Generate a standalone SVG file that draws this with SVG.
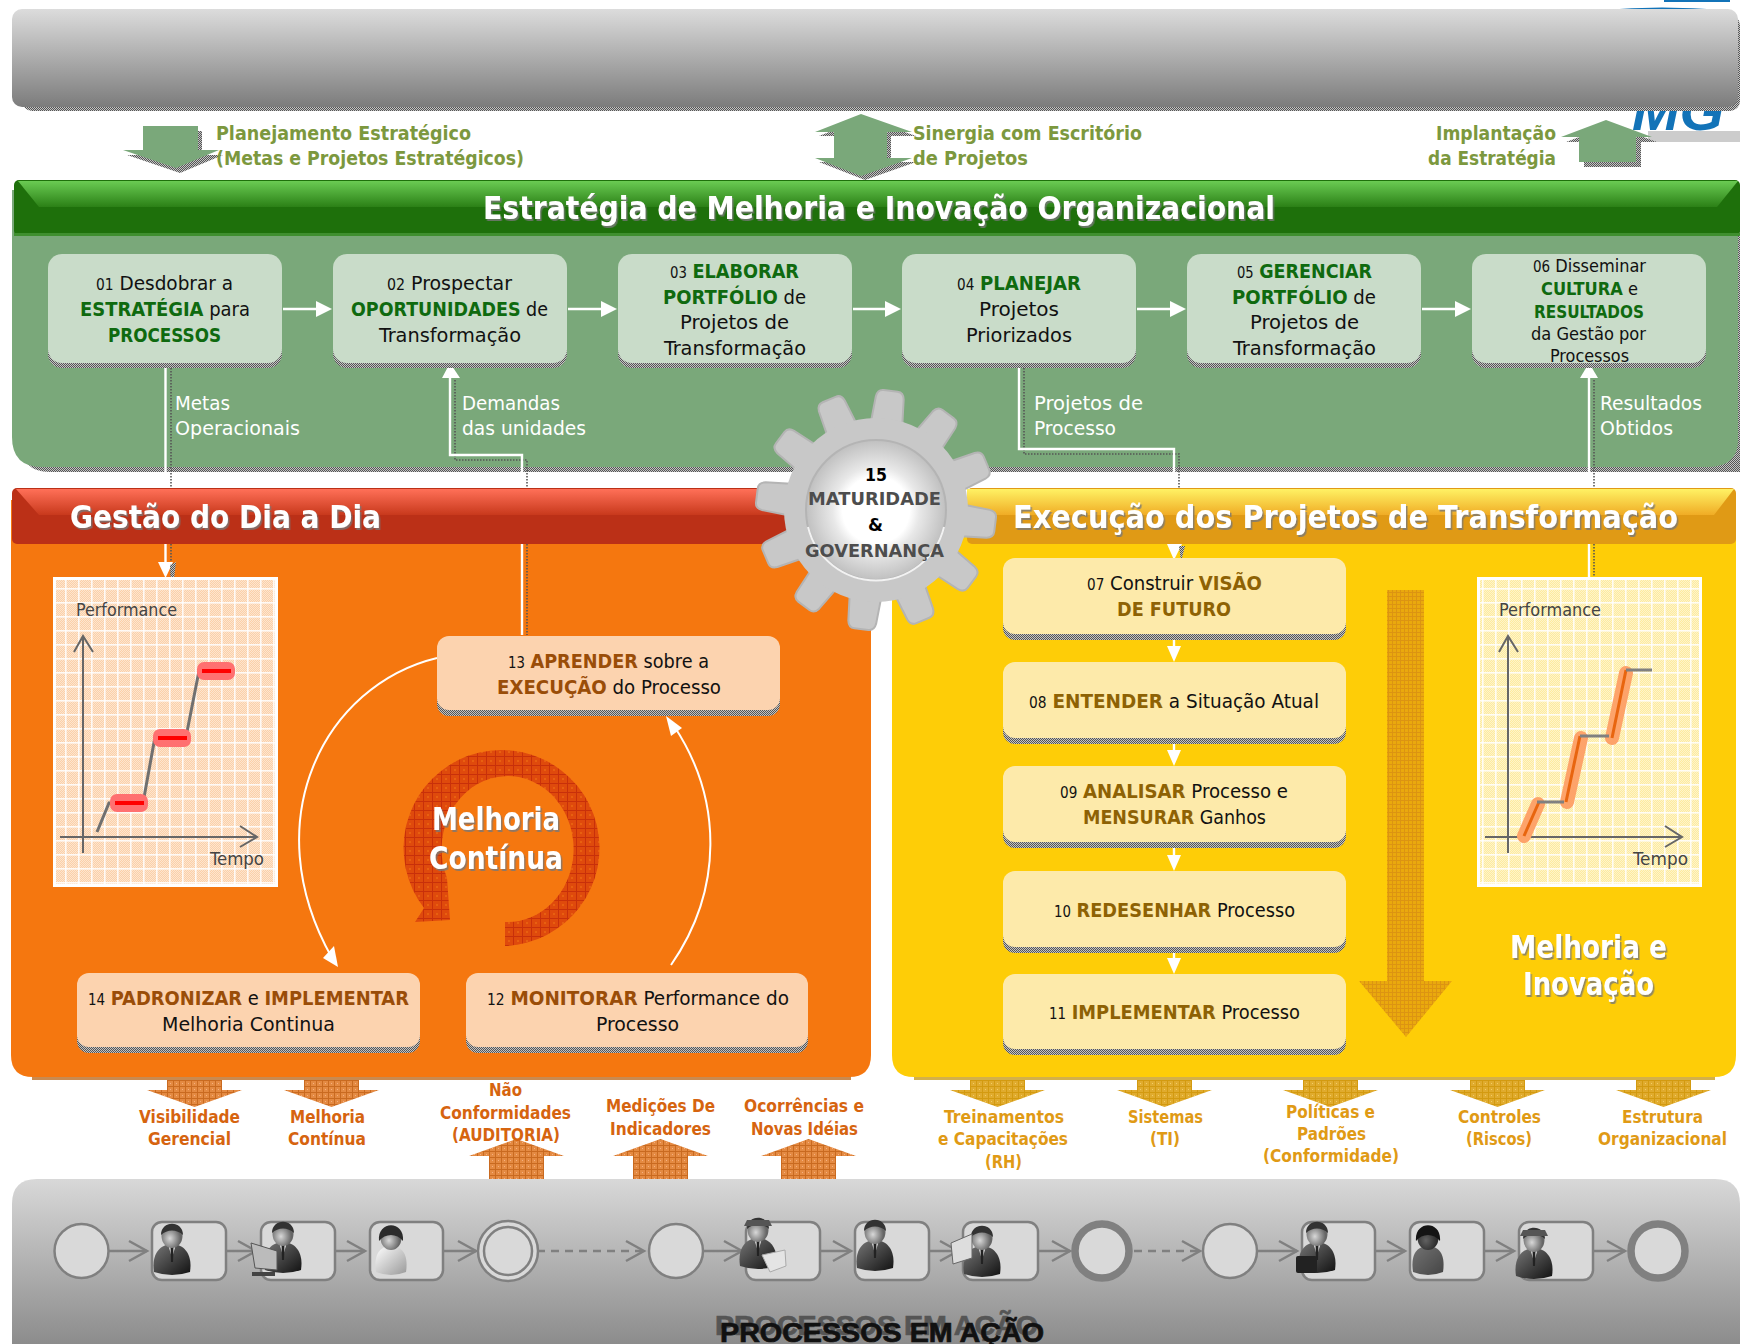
<svg xmlns="http://www.w3.org/2000/svg" width="1740" height="1344" viewBox="0 0 1740 1344">
<style>
text{font-family:"DejaVu Sans Condensed","DejaVu Sans","Noto Sans",sans-serif;font-size:20px;fill:#111}
.b{font-weight:bold}
.num{font-size:15px}
.gw{fill:#0f6a0f;font-weight:bold}
.br{fill:#9a4d08;font-weight:bold}
.gd{fill:#8e6204;font-weight:bold}
.ol{fill:#7c983e;font-weight:bold}
.wl{fill:#fff}
.t{font-weight:bold;font-size:32px;fill:#fff;filter:url(#ts)}
.ax{fill:#444;font-size:17px}
.ol2{fill:#d6640f;font-size:18px;font-weight:bold}
.ye2{fill:#e09a15;font-size:18px;font-weight:bold}
.n6{font-size:18px}
.gr{font-family:"DejaVu Sans",sans-serif;font-weight:bold;font-size:18px;fill:#4d4d4d}
.pa{font-family:"Liberation Sans",sans-serif;font-weight:bold;font-size:27px;stroke-width:.7}
.shad{fill:url(#ds)}
.sl{fill:none;stroke:#555;stroke-width:1.6;stroke-dasharray:1.5 1.5}
.wline{fill:none;stroke:#fff;stroke-width:2.4}
.wh{fill:#fff}
.gn{fill:#c9dcc9}.pe{fill:#fcd3af}.yl{fill:#fdeaaa}
.task{fill:#d9d9d9;stroke:#808080;stroke-width:2.5}
.pl{fill:none;stroke:#808080;stroke-width:2.5}
.axl{fill:none;stroke:#666;stroke-width:2}
</style>
<defs>
<filter id="ts" x="-5%" y="-20%" width="110%" height="150%"><feDropShadow dx="1.5" dy="2" stdDeviation="0.4" flood-color="#777" flood-opacity="0.8"/></filter>
<pattern id="ds" width="2" height="2" patternUnits="userSpaceOnUse"><rect width="1" height="1" fill="#555"/><rect x="1" y="1" width="1" height="1" fill="#555"/><rect x="1" width="1" height="1" fill="#c4c4c4"/><rect y="1" width="1" height="1" fill="#c4c4c4"/></pattern>
<pattern id="or" width="6" height="6" patternUnits="userSpaceOnUse"><rect width="6" height="6" fill="#e48a42"/><rect width="6" height="1" fill="#c96a20"/><rect width="1" height="6" fill="#c96a20"/><rect x="3" y="3" width="1" height="1" fill="#f5b080"/></pattern>
<pattern id="yo" width="6" height="6" patternUnits="userSpaceOnUse"><rect width="6" height="6" fill="#e0ab2e"/><rect width="6" height="1" fill="#d39a10"/><rect width="1" height="6" fill="#d39a10"/><rect x="3" y="3" width="1" height="1" fill="#f2cd66"/></pattern>
<pattern id="bd" width="4" height="4" patternUnits="userSpaceOnUse"><rect width="4" height="4" fill="#eaa90d"/><rect width="4" height="1" fill="#dc9412"/><rect width="1" height="4" fill="#dc9412"/></pattern>
<pattern id="rd" width="9" height="9" patternUnits="userSpaceOnUse"><rect width="9" height="9" fill="#df4a0c"/><rect width="9" height="1" fill="#c8300a"/><rect width="1" height="9" fill="#c8300a"/><rect x="4" y="4" width="2" height="2" fill="#e86010"/></pattern>
<pattern id="fd" width="2" height="2" patternUnits="userSpaceOnUse"><rect width="1" height="1" fill="#fff" opacity=".45"/><rect x="1" y="1" width="1" height="1" fill="#fff" opacity=".45"/></pattern>
<pattern id="cp" width="13" height="14" patternUnits="userSpaceOnUse"><rect width="13" height="14" fill="#fbd0a8"/><rect y="0" width="13" height="1.6" fill="#fff" opacity=".85"/><rect width="1.6" height="14" fill="#fff" opacity=".85"/></pattern>
<pattern id="cy" width="13" height="14" patternUnits="userSpaceOnUse"><rect width="13" height="14" fill="#fdeb9e"/><rect y="0" width="13" height="1.6" fill="#fff" opacity=".85"/><rect width="1.6" height="14" fill="#fff" opacity=".85"/></pattern>
<linearGradient id="gTop" x1="0" y1="0" x2="0" y2="1"><stop offset="0" stop-color="#dcdcdc"/><stop offset="1" stop-color="#7c7c7c"/></linearGradient>
<linearGradient id="gBot" x1="0" y1="0" x2="0" y2="1"><stop offset="0" stop-color="#d8d8d8"/><stop offset="1" stop-color="#8c8c8c"/></linearGradient>
<linearGradient id="hG" x1="0" y1="0" x2="0" y2="1"><stop offset="0" stop-color="#6acb53"/><stop offset="1" stop-color="#2b8016"/></linearGradient>
<linearGradient id="hR" x1="0" y1="0" x2="0" y2="1"><stop offset="0" stop-color="#ff7058"/><stop offset="1" stop-color="#c8391c"/></linearGradient>
<linearGradient id="hY" x1="0" y1="0" x2="0" y2="1"><stop offset="0" stop-color="#fff264"/><stop offset="1" stop-color="#f0ac25"/></linearGradient>
<radialGradient id="hub"><stop offset="0.48" stop-color="#fff"/><stop offset="0.62" stop-color="#e8e8e8"/><stop offset="1" stop-color="#c0c0c0"/></radialGradient>
<linearGradient id="bodyD" x1="0" y1="0" x2="1" y2="1"><stop offset="0" stop-color="#777"/><stop offset="1" stop-color="#111"/></linearGradient>
<linearGradient id="bodyL" x1="0" y1="0" x2="1" y2="1"><stop offset="0" stop-color="#fff"/><stop offset="1" stop-color="#999"/></linearGradient>
<radialGradient id="skin" cx="0.4" cy="0.6"><stop offset="0" stop-color="#d8d8d8"/><stop offset="1" stop-color="#666"/></radialGradient>
<path id="tooth" d="M-16,-84L-14,-113Q-13,-120-7,-120L7,-120Q13,-120 14,-113L16,-84Z" fill="#c8c8c8" stroke="#b4b4b4" stroke-width="2"/>
<g id="pD"><path d="M-18,22C-21,2-10,-6 0,-6C10,-6 21,2 18,22Q0,28-18,22Z" fill="url(#bodyD)"/><path d="M-4,-6L0,8L4,-6Z" fill="#eee"/><path d="M-1.5,-3L1.5,-3L1,12L-1,12Z" fill="#222"/><ellipse cx="0" cy="-14" rx="10.5" ry="12" fill="url(#skin)"/><path d="M-11,-15C-11,-30 11,-30 11,-15C5,-21-5,-21-11,-15Z" fill="#333"/></g>
<g id="pL"><path d="M-15,22C-18,2-9,-4 0,-4C9,-4 18,2 15,22Q0,28-15,22Z" fill="url(#bodyL)"/><ellipse cx="0" cy="-12" rx="10.5" ry="12" fill="url(#skin)"/><path d="M-12,-9C-14,-30 14,-30 12,-9C6,-17-6,-17-12,-9Z" fill="#2c2c2c"/></g>
<g id="cap"><path d="M-11,-24H11L14,-18H-14Z" fill="#555"/></g>
<path id="aD" d="M0,0H55V10H75L27.500,27L-20,10H0Z"/>
<path id="aU" d="M0,17H-20L27.500,0L75,17H55V40H0Z"/>
</defs>

<g id="backdrop">
<rect width="1740" height="1344" fill="#fff"/>
<path d="M1603,10Q1660,5 1725,10V14H1603Z M1664,0H1730V2H1664Z" fill="#1273b8"/>
<rect x="1648" y="131" width="92" height="11" fill="#cccccc"/>
<text x="1632" y="130" style="font-family:'Liberation Sans',sans-serif;font-size:53px;font-weight:bold;font-style:italic;fill:#1273b8" textLength="92" lengthAdjust="spacingAndGlyphs">MG</text>
</g>

<g id="top-bar">
<rect x="22" y="15" width="1718" height="96" rx="10" class="shad"/>
<rect x="12" y="9" width="1726" height="98" rx="10" fill="url(#gTop)"/>
</g>

<g id="top-arrows">
<path transform="translate(4,5)" class="shad" d="M143,126H198V150H219L176,168L123,150H143Z"/>
<path d="M143,126H198V150H219L176,168L123,150H143Z" fill="#7aa87a"/>
<path transform="translate(4,4)" class="shad" d="M861,114L912,132H887V158H912L861,176L815,158H834V132H815Z"/>
<path d="M861,114L912,132H887V158H912L861,176L815,158H834V132H815Z" fill="#7aa87a"/>
<path transform="translate(5,5)" class="shad" d="M1606,120L1652,137H1636V162H1579V137H1561Z"/>
<path d="M1606,120L1652,137H1636V162H1579V137H1561Z" fill="#7aa87a"/>
<text class="ol" x="216" y="140" textLength="255" lengthAdjust="spacingAndGlyphs">Planejamento Estratégico</text>
<text class="ol" x="216" y="165" textLength="308" lengthAdjust="spacingAndGlyphs">(Metas e Projetos Estratégicos)</text>
<text class="ol" x="913" y="140" textLength="229" lengthAdjust="spacingAndGlyphs">Sinergia com Escritório</text>
<text class="ol" x="913" y="165" textLength="115" lengthAdjust="spacingAndGlyphs">de Projetos</text>
<text class="ol" x="1436" y="140" textLength="120" lengthAdjust="spacingAndGlyphs">Implantação</text>
<text class="ol" x="1428" y="165" textLength="128" lengthAdjust="spacingAndGlyphs">da Estratégia</text>
</g>

<g id="panel-estrategia">
<path d="M20,190H1740V472H50Q20,472 20,440Z" class="shad"/>
<path d="M12,190H1738V440Q1738,467 1708,467H42Q12,467 12,437Z" fill="#7aa87a"/>
<rect x="14" y="180" width="1726" height="56" rx="5" fill="#1e700b"/>
<rect x="14" y="233" width="1726" height="3" fill="#3f8f2f"/>
<path d="M18,181H1738L1717,207H39Z" fill="url(#hG)"/>
<text class="t" x="483" y="219" textLength="792" lengthAdjust="spacingAndGlyphs">Estratégia de Melhoria e Inovação Organizacional</text>
</g>

<g id="panel-gestao">
<path d="M32,500H851V1080H32Z" fill="#c98a50"/>
<path d="M11,500H871V1055Q871,1077 849,1077H33Q11,1077 11,1055Z" fill="#f5770f"/>
<rect x="12" y="488" width="776" height="56" rx="5" fill="#bb3017"/>
<path d="M16,489H788V515H39Z" fill="url(#hR)"/>
<text class="t" x="70" y="528" textLength="311" lengthAdjust="spacingAndGlyphs">Gestão do Dia a Dia</text>
</g>

<g id="panel-execucao">
<path d="M914,500H1715V1080H914Z" fill="#d3b04a"/>
<path d="M892,500H1736V1055Q1736,1077 1714,1077H914Q892,1077 892,1055Z" fill="#fecd07"/>
<rect x="967" y="488" width="769" height="56" rx="5" fill="#e09a15"/>
<path d="M967,489H1734L1714,515H967Z" fill="url(#hY)"/>
<text class="t" x="1013" y="528" textLength="665" lengthAdjust="spacingAndGlyphs">Execução dos Projetos de Transformação</text>
</g>

<g id="panel-processos">
<path d="M12,1344V1204Q12,1179 37,1179H1715Q1740,1179 1740,1204V1344Z" fill="url(#gBot)"/>
<text class="pa" x="715" y="1335" style="fill:#555;stroke:#555" textLength="323" lengthAdjust="spacingAndGlyphs">PROCESSOS EM AÇÃO</text>
<text class="pa" x="720" y="1342" style="fill:#111;stroke:#111" textLength="324" lengthAdjust="spacingAndGlyphs">PROCESSOS EM AÇÃO</text>
</g>

<g id="connectors">
<path class="sl" d="M171,368V488M171,544V585"/>
<path class="wline" d="M165.500,363V488M165.500,544V564"/>
<path class="wh" d="M158,562H173L165.500,578Z"/>
<path class="shad" d="M170,565L176,562L174,580L171,584Z"/>
<path class="sl" d="M455,380V460H527V488M527,544V635"/>
<path class="wline" d="M450,376V455H522V488M522,544V635"/>
<path class="wh" d="M450,363L460,378H442Z"/>
<path class="sl" d="M1024,368V454H1179V488"/>
<path class="wline" d="M1019,363V449H1174V488"/>
<path class="wh" d="M1167,544H1182L1174,560Z"/>
<path class="shad" d="M1179,546H1185L1181,562Z"/>
<path class="sl" d="M1594,380V488M1594,544V582"/>
<path class="wline" d="M1589,376V488M1589,544V578"/>
<path class="wh" d="M1589,363L1598,378H1580Z"/>
<g id="flow-arrows">
<path class="wline" d="M283,309H318M568,309H603M853,309H888M1137,309H1173M1422,309H1458"/>
<path class="wh" d="M316,301L332,309L316,317ZM601,301L617,309L601,317ZM885,301L901,309L885,317ZM1170,301L1186,309L1170,317ZM1455,301L1471,309L1455,317Z"/>
<path class="wline" d="M1174,640V648M1174,744V752M1174,848V857M1174,953V960"/>
<path class="wh" d="M1167,646H1181L1174,662ZM1167,750H1181L1174,766ZM1167,855H1181L1174,871ZM1167,958H1181L1174,974Z"/>
</g>
<g id="cycle-arrows">
<path class="wline" style="stroke-width:2" d="M437,658C325,685 254,820 332,958"/>
<path class="wh" d="M338,967L323,958L334,946Z"/>
<path class="wline" style="stroke-width:2" d="M671,965C723,890 723,800 674,726"/>
<path class="wh" d="M666,716L682,728L671,736Z"/>
</g>
<g id="process-lines">
<path class="pl" d="M109,1251H147M226,1251H256M335,1251H365M443,1251H476M703,1251H741M820,1251H850M929,1251H958M1038,1251H1070M1257,1251H1297M1375,1251H1405M1484,1251H1514M1593,1251H1625"/>
<path class="pl" style="stroke-dasharray:8 6" d="M537,1251H642M1134,1251H1198"/>
<path class="pl" d="M129,1241L147,1251L129,1261M238,1241L256,1251L238,1261M347,1241L365,1251L347,1261M458,1241L476,1251L458,1261M626,1241L644,1251L626,1261M724,1241L742,1251L724,1261M833,1241L851,1251L833,1261M940,1241L958,1251L940,1261M1052,1241L1070,1251L1052,1261M1182,1241L1200,1251L1182,1261M1279,1241L1297,1251L1279,1261M1387,1241L1405,1251L1387,1261M1496,1241L1514,1251L1496,1261M1607,1241L1625,1251L1607,1261"/>
</g>
</g>

<g id="labels">
<text class="wl" x="175" y="410" textLength="55" lengthAdjust="spacingAndGlyphs">Metas</text>
<text class="wl" x="175" y="435" textLength="125" lengthAdjust="spacingAndGlyphs">Operacionais</text>
<text class="wl" x="462" y="410" textLength="98" lengthAdjust="spacingAndGlyphs">Demandas</text>
<text class="wl" x="462" y="435" textLength="124" lengthAdjust="spacingAndGlyphs">das unidades</text>
<text class="wl" x="1034" y="410" textLength="109" lengthAdjust="spacingAndGlyphs">Projetos de</text>
<text class="wl" x="1034" y="435" textLength="82" lengthAdjust="spacingAndGlyphs">Processo</text>
<text class="wl" x="1600" y="410" textLength="102" lengthAdjust="spacingAndGlyphs">Resultados</text>
<text class="wl" x="1600" y="435" textLength="73" lengthAdjust="spacingAndGlyphs">Obtidos</text>
</g>

<g id="n01"><rect x="48" y="259" width="234" height="109" rx="14" class="shad"/><rect x="48" y="254" width="234" height="109" rx="14" class="gn"/>
<text x="96" y="290" textLength="137" lengthAdjust="spacingAndGlyphs"><tspan class="num">01</tspan> Desdobrar a</text>
<text x="80" y="316" textLength="170" lengthAdjust="spacingAndGlyphs"><tspan class="gw">ESTRATÉGIA</tspan> para</text>
<text x="108" y="342" textLength="113" lengthAdjust="spacingAndGlyphs" class="gw">PROCESSOS</text></g>
<g id="n02"><rect x="333" y="259" width="234" height="109" rx="14" class="shad"/><rect x="333" y="254" width="234" height="109" rx="14" class="gn"/>
<text x="387" y="290" textLength="125" lengthAdjust="spacingAndGlyphs"><tspan class="num">02</tspan> Prospectar</text>
<text x="351" y="316" textLength="197" lengthAdjust="spacingAndGlyphs"><tspan class="gw">OPORTUNIDADES</tspan> de</text>
<text x="379" y="342" textLength="142" lengthAdjust="spacingAndGlyphs">Transformação</text></g>
<g id="n03"><rect x="618" y="259" width="234" height="109" rx="14" class="shad"/><rect x="618" y="254" width="234" height="109" rx="14" class="gn"/>
<text x="670" y="278" textLength="129" lengthAdjust="spacingAndGlyphs"><tspan class="num">03</tspan> <tspan class="gw">ELABORAR</tspan></text>
<text x="663" y="304" textLength="143" lengthAdjust="spacingAndGlyphs"><tspan class="gw">PORTFÓLIO</tspan> de</text>
<text x="680" y="329" textLength="109" lengthAdjust="spacingAndGlyphs">Projetos de</text>
<text x="664" y="355" textLength="142" lengthAdjust="spacingAndGlyphs">Transformação</text></g>
<g id="n04"><rect x="902" y="259" width="234" height="109" rx="14" class="shad"/><rect x="902" y="254" width="234" height="109" rx="14" class="gn"/>
<text x="957" y="290" textLength="124" lengthAdjust="spacingAndGlyphs"><tspan class="num">04</tspan> <tspan class="gw">PLANEJAR</tspan></text>
<text x="979" y="316" textLength="80" lengthAdjust="spacingAndGlyphs">Projetos</text>
<text x="966" y="342" textLength="106" lengthAdjust="spacingAndGlyphs">Priorizados</text></g>
<g id="n05"><rect x="1187" y="259" width="234" height="109" rx="14" class="shad"/><rect x="1187" y="254" width="234" height="109" rx="14" class="gn"/>
<text x="1237" y="278" textLength="135" lengthAdjust="spacingAndGlyphs"><tspan class="num">05</tspan> <tspan class="gw">GERENCIAR</tspan></text>
<text x="1232" y="304" textLength="144" lengthAdjust="spacingAndGlyphs"><tspan class="gw">PORTFÓLIO</tspan> de</text>
<text x="1250" y="329" textLength="109" lengthAdjust="spacingAndGlyphs">Projetos de</text>
<text x="1233" y="355" textLength="143" lengthAdjust="spacingAndGlyphs">Transformação</text></g>
<g id="n06"><rect x="1472" y="259" width="234" height="109" rx="14" class="shad"/><rect x="1472" y="254" width="234" height="109" rx="14" class="gn"/>
<text class="n6" x="1533" y="272" textLength="113" lengthAdjust="spacingAndGlyphs"><tspan class="num">06</tspan> Disseminar</text>
<text class="n6" x="1541" y="295" textLength="97" lengthAdjust="spacingAndGlyphs"><tspan class="gw">CULTURA</tspan> e</text>
<text class="n6 gw" x="1534" y="318" textLength="110" lengthAdjust="spacingAndGlyphs">RESULTADOS</text>
<text class="n6" x="1531" y="340" textLength="115" lengthAdjust="spacingAndGlyphs">da Gestão por</text>
<text class="n6" x="1550" y="362" textLength="79" lengthAdjust="spacingAndGlyphs">Processos</text></g>

<g id="chart-gestao">
<rect x="54.500" y="578.500" width="222" height="307" fill="url(#cp)" stroke="#fff" stroke-width="3"/>
<rect x="56" y="580" width="219" height="304" fill="url(#fd)"/>
<text class="ax" x="76" y="616" textLength="101" lengthAdjust="spacingAndGlyphs">Performance</text>
<path class="axl" d="M83,853V636M74,652L83,636L93,652M60,837H256M240,826L257,837L240,847"/>
<path fill="none" stroke="#707070" stroke-width="3" d="M97,832L109,803H143L155,737H186L199,671"/>
<rect x="110" y="794" width="38" height="18" rx="7" fill="#ff7070"/><rect x="115" y="801" width="29" height="4" fill="#f00"/>
<rect x="153" y="729" width="38" height="18" rx="7" fill="#ff7070"/><rect x="158" y="736" width="29" height="4" fill="#f00"/>
<rect x="197" y="662" width="38" height="18" rx="7" fill="#ff7070"/><rect x="202" y="669" width="29" height="4" fill="#f00"/>
<text class="ax" x="210" y="865" textLength="54" lengthAdjust="spacingAndGlyphs">Tempo</text>
</g>

<g id="ciclo">
<path d="M505,946A98,98 0 1 0 424,908L415,922L450,920L447,878A66,73 0 1 1 505,922Z" fill="url(#rd)"/>
<text class="t" x="432" y="830" textLength="128" lengthAdjust="spacingAndGlyphs">Melhoria</text>
<text class="t" x="429" y="869" textLength="134" lengthAdjust="spacingAndGlyphs">Contínua</text>
</g>

<g id="n13"><rect x="437" y="642" width="343" height="74" rx="12" class="shad"/><rect x="437" y="636" width="343" height="74" rx="12" class="pe"/>
<text x="508" y="668" textLength="201" lengthAdjust="spacingAndGlyphs"><tspan class="num">13</tspan> <tspan class="br">APRENDER</tspan> sobre a</text>
<text x="497" y="694" textLength="224" lengthAdjust="spacingAndGlyphs"><tspan class="br">EXECUÇÃO</tspan> do Processo</text></g>
<g id="n14"><rect x="77" y="979" width="343" height="74" rx="12" class="shad"/><rect x="77" y="973" width="343" height="74" rx="12" class="pe"/>
<text x="88" y="1005" textLength="321" lengthAdjust="spacingAndGlyphs"><tspan class="num">14</tspan> <tspan class="br">PADRONIZAR</tspan> e  <tspan class="br">IMPLEMENTAR</tspan></text>
<text x="162" y="1031" textLength="173" lengthAdjust="spacingAndGlyphs">Melhoria Continua</text></g>
<g id="n12"><rect x="466" y="979" width="342" height="74" rx="12" class="shad"/><rect x="466" y="973" width="342" height="74" rx="12" class="pe"/>
<text x="487" y="1005" textLength="302" lengthAdjust="spacingAndGlyphs"><tspan class="num">12</tspan> <tspan class="br">MONITORAR</tspan> Performance do</text>
<text x="596" y="1031" textLength="83" lengthAdjust="spacingAndGlyphs">Processo</text></g>

<g id="big-arrow"><path d="M1387,590H1424V981H1452L1406,1037L1359,981H1387Z" fill="url(#bd)"/></g>

<g id="n07"><rect x="1003" y="564" width="343" height="76" rx="12" class="shad"/><rect x="1003" y="558" width="343" height="76" rx="12" class="yl"/>
<text x="1087" y="590" textLength="175" lengthAdjust="spacingAndGlyphs"><tspan class="num">07</tspan> Construir <tspan class="gd">VISÃO</tspan></text>
<text class="gd" x="1117" y="616" textLength="114" lengthAdjust="spacingAndGlyphs">DE FUTURO</text></g>
<g id="n08"><rect x="1003" y="668" width="343" height="76" rx="12" class="shad"/><rect x="1003" y="662" width="343" height="76" rx="12" class="yl"/>
<text x="1029" y="708" textLength="290" lengthAdjust="spacingAndGlyphs"><tspan class="num">08</tspan> <tspan class="gd">ENTENDER</tspan> a Situação Atual</text></g>
<g id="n09"><rect x="1003" y="772" width="343" height="76" rx="12" class="shad"/><rect x="1003" y="766" width="343" height="76" rx="12" class="yl"/>
<text x="1060" y="798" textLength="228" lengthAdjust="spacingAndGlyphs"><tspan class="num">09</tspan> <tspan class="gd">ANALISAR</tspan> Processo e</text>
<text x="1083" y="824" textLength="183" lengthAdjust="spacingAndGlyphs"><tspan class="gd">MENSURAR</tspan> Ganhos</text></g>
<g id="n10"><rect x="1003" y="877" width="343" height="76" rx="12" class="shad"/><rect x="1003" y="871" width="343" height="76" rx="12" class="yl"/>
<text x="1054" y="917" textLength="241" lengthAdjust="spacingAndGlyphs"><tspan class="num">10</tspan> <tspan class="gd">REDESENHAR</tspan> Processo</text></g>
<g id="n11"><rect x="1003" y="980" width="343" height="75" rx="12" class="shad"/><rect x="1003" y="974" width="343" height="75" rx="12" class="yl"/>
<text x="1049" y="1019" textLength="251" lengthAdjust="spacingAndGlyphs"><tspan class="num">11</tspan> <tspan class="gd">IMPLEMENTAR</tspan> Processo</text></g>

<g id="chart-execucao">
<rect x="1478.500" y="578.500" width="222" height="307" fill="url(#cy)" stroke="#fff" stroke-width="3"/>
<rect x="1480" y="580" width="219" height="304" fill="url(#fd)"/>
<text class="ax" x="1499" y="616" textLength="102" lengthAdjust="spacingAndGlyphs">Performance</text>
<path class="axl" d="M1508,853V636M1499,652L1508,636L1518,652M1485,837H1681M1665,826L1682,837L1665,847"/>
<path fill="none" stroke="#fda36a" stroke-width="14" stroke-linecap="round" d="M1524,836L1538,804M1567,802L1581,738M1612,738L1626,673"/>
<path fill="none" stroke="#e8650f" stroke-width="3" d="M1524,836L1539,802M1566,802L1580,736M1612,738L1626,670"/>
<path fill="none" stroke="#808080" stroke-width="3" d="M1537,802H1564M1580,736H1609M1626,670H1652"/>
<text class="ax" x="1633" y="865" textLength="55" lengthAdjust="spacingAndGlyphs">Tempo</text>
</g>
<text id="melhoria-inovacao" class="t" x="1510" y="958" textLength="157" lengthAdjust="spacingAndGlyphs">Melhoria e</text>
<text class="t" x="1523" y="995" textLength="131" lengthAdjust="spacingAndGlyphs">Inovação</text>

<g id="gear">
<g transform="translate(876,510)">
<use href="#tooth" transform="rotate(7)"/><use href="#tooth" transform="rotate(37)"/><use href="#tooth" transform="rotate(67)"/><use href="#tooth" transform="rotate(97)"/><use href="#tooth" transform="rotate(127)"/><use href="#tooth" transform="rotate(157)"/><use href="#tooth" transform="rotate(187)"/><use href="#tooth" transform="rotate(217)"/><use href="#tooth" transform="rotate(247)"/><use href="#tooth" transform="rotate(277)"/><use href="#tooth" transform="rotate(307)"/><use href="#tooth" transform="rotate(337)"/>
<circle r="92" fill="#c8c8c8"/>
<circle r="70" fill="url(#hub)" stroke="#b4b4b4" stroke-width="2"/>
<path d="M-68,17A70,70 0 0 0 68,17" fill="none" stroke="#f2f2f2" stroke-width="2"/>
</g>
<text class="gr" x="865" y="481" textLength="22" lengthAdjust="spacingAndGlyphs" style="fill:#000">15</text>
<text class="gr" x="808" y="505" textLength="133" lengthAdjust="spacingAndGlyphs">MATURIDADE</text>
<text class="gr" x="868" y="531" textLength="15" lengthAdjust="spacingAndGlyphs" style="fill:#000">&amp;</text>
<text class="gr" x="805" y="557" textLength="139" lengthAdjust="spacingAndGlyphs">GOVERNANÇA</text>
</g>

<g id="side-arrows">
<use href="#aD" x="167" y="1080" fill="url(#or)"/>
<use href="#aD" x="304" y="1080" fill="url(#or)"/>
<use href="#aU" x="489" y="1139" fill="url(#or)"/>
<use href="#aU" x="633" y="1139" fill="url(#or)"/>
<use href="#aU" x="781" y="1139" fill="url(#or)"/>
<use href="#aD" x="970" y="1080" fill="url(#yo)"/>
<use href="#aD" x="1137" y="1080" fill="url(#yo)"/>
<use href="#aD" x="1303" y="1080" fill="url(#yo)"/>
<use href="#aD" x="1470" y="1080" fill="url(#yo)"/>
<use href="#aD" x="1636" y="1080" fill="url(#yo)"/>
</g>
<g id="side-labels">
<text class="ol2" x="139" y="1123" textLength="101" lengthAdjust="spacingAndGlyphs">Visibilidade</text>
<text class="ol2" x="148" y="1145" textLength="83" lengthAdjust="spacingAndGlyphs">Gerencial</text>
<text class="ol2" x="290" y="1123" textLength="75" lengthAdjust="spacingAndGlyphs">Melhoria</text>
<text class="ol2" x="288" y="1145" textLength="78" lengthAdjust="spacingAndGlyphs">Contínua</text>
<text class="ol2" x="489" y="1096" textLength="33" lengthAdjust="spacingAndGlyphs">Não</text>
<text class="ol2" x="440" y="1119" textLength="131" lengthAdjust="spacingAndGlyphs">Conformidades</text>
<text class="ol2" x="452" y="1141" textLength="108" lengthAdjust="spacingAndGlyphs">(AUDITORIA)</text>
<text class="ol2" x="606" y="1112" textLength="109" lengthAdjust="spacingAndGlyphs">Medições De</text>
<text class="ol2" x="610" y="1135" textLength="101" lengthAdjust="spacingAndGlyphs">Indicadores</text>
<text class="ol2" x="744" y="1112" textLength="120" lengthAdjust="spacingAndGlyphs">Ocorrências e</text>
<text class="ol2" x="751" y="1135" textLength="107" lengthAdjust="spacingAndGlyphs">Novas Idéias</text>
<text class="ye2" x="944" y="1123" textLength="120" lengthAdjust="spacingAndGlyphs">Treinamentos</text>
<text class="ye2" x="938" y="1145" textLength="130" lengthAdjust="spacingAndGlyphs">e Capacitações</text>
<text class="ye2" x="985" y="1168" textLength="37" lengthAdjust="spacingAndGlyphs">(RH)</text>
<text class="ye2" x="1128" y="1123" textLength="75" lengthAdjust="spacingAndGlyphs">Sistemas</text>
<text class="ye2" x="1150" y="1145" textLength="30" lengthAdjust="spacingAndGlyphs">(TI)</text>
<text class="ye2" x="1286" y="1118" textLength="89" lengthAdjust="spacingAndGlyphs">Políticas e</text>
<text class="ye2" x="1297" y="1140" textLength="69" lengthAdjust="spacingAndGlyphs">Padrões</text>
<text class="ye2" x="1263" y="1162" textLength="136" lengthAdjust="spacingAndGlyphs">(Conformidade)</text>
<text class="ye2" x="1458" y="1123" textLength="83" lengthAdjust="spacingAndGlyphs">Controles</text>
<text class="ye2" x="1466" y="1145" textLength="66" lengthAdjust="spacingAndGlyphs">(Riscos)</text>
<text class="ye2" x="1622" y="1123" textLength="81" lengthAdjust="spacingAndGlyphs">Estrutura</text>
<text class="ye2" x="1598" y="1145" textLength="129" lengthAdjust="spacingAndGlyphs">Organizacional</text>
</g>

<g id="process-nodes">
<circle id="ev1" cx="81.500" cy="1251" r="27" class="task"/>
<g id="t1"><rect x="152" y="1222" width="74" height="58" rx="10" class="task"/><use href="#pD" x="172" y="1250"/></g>
<g id="t2"><rect x="261" y="1222" width="74" height="58" rx="10" class="task"/><use href="#pD" x="283" y="1248"/><path d="M251,1243L277,1251V1270L255,1268Z" fill="#bbb" stroke="#555"/><path d="M252,1272H275V1276H252Z" fill="#444"/></g>
<g id="t3"><rect x="370" y="1222" width="73" height="58" rx="10" class="task"/><use href="#pL" x="391" y="1250"/></g>
<g id="ev2"><circle cx="508" cy="1251" r="30" class="task"/><circle cx="508" cy="1251" r="24" class="task"/></g>
<circle id="ev3" cx="676" cy="1251" r="27" class="task"/>
<g id="t4"><rect x="746" y="1222" width="74" height="58" rx="10" class="task"/><use href="#pD" x="758" y="1244"/><use href="#cap" x="758" y="1244"/><path d="M762,1255L785,1250L786,1266L770,1272Z" fill="#e4e4e4" stroke="#aaa"/></g>
<g id="t5"><rect x="855" y="1222" width="74" height="58" rx="10" class="task"/><use href="#pD" x="875" y="1246"/></g>
<g id="t6"><rect x="963" y="1222" width="75" height="58" rx="10" class="task"/><use href="#pD" x="982" y="1252"/><path d="M951,1243L972,1234V1258L953,1264Z" fill="#ddd" stroke="#666"/></g>
<circle id="ev4" cx="1102" cy="1251" r="27" class="task" style="stroke-width:7.500"/>
<circle id="ev5" cx="1230" cy="1251" r="27" class="task"/>
<g id="t7"><rect x="1302" y="1222" width="73" height="58" rx="10" class="task"/><use href="#pD" x="1317" y="1248"/><rect x="1296" y="1256" width="21" height="17" rx="2" fill="#222"/></g>
<g id="t8"><rect x="1410" y="1222" width="74" height="58" rx="10" class="task"/><use href="#pL" x="1428" y="1250" style="filter:brightness(.45)"/></g>
<g id="t9"><rect x="1519" y="1222" width="74" height="58" rx="10" class="task"/><use href="#pD" x="1534" y="1254"/><use href="#cap" x="1534" y="1254"/></g>
<circle id="ev6" cx="1658" cy="1251" r="27" class="task" style="stroke-width:7.500"/>
</g>
</svg>
